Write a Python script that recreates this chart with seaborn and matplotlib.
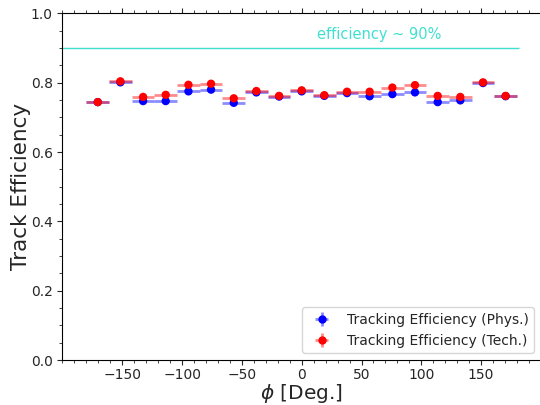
import numpy as np
import pandas as pd
import matplotlib
matplotlib.use("Agg")
import matplotlib.pyplot as plt
import seaborn as sns
from matplotlib.ticker import AutoMinorLocator, MultipleLocator
from matplotlib.legend_handler import HandlerTuple
from matplotlib.lines import Line2D

# ---- data ----
phi_centers = [-170.5, -151.6, -132.6, -113.7, -94.7, -75.8, -56.8, -37.9, -18.9, 0.0,
               18.9, 37.9, 56.8, 75.8, 94.7, 113.7, 132.6, 151.6, 170.5]
phi_halfwidth = 9.47
eff_phys = [0.744, 0.801, 0.747, 0.747, 0.775, 0.780, 0.742, 0.772, 0.760, 0.775,
            0.762, 0.770, 0.761, 0.767, 0.772, 0.744, 0.749, 0.799, 0.761]
err_phys = [0.005, 0.006, 0.005, 0.005, 0.006, 0.006, 0.006, 0.005, 0.005, 0.005,
            0.005, 0.005, 0.005, 0.005, 0.006, 0.005, 0.005, 0.006, 0.005]
eff_tech = [0.744, 0.804, 0.759, 0.765, 0.794, 0.797, 0.755, 0.776, 0.762, 0.778,
            0.764, 0.774, 0.774, 0.786, 0.793, 0.762, 0.759, 0.801, 0.762]
err_tech = [0.005, 0.007, 0.007, 0.007, 0.012, 0.011, 0.007, 0.005, 0.005, 0.005,
            0.005, 0.006, 0.007, 0.007, 0.012, 0.006, 0.006, 0.007, 0.005]
x_ticks = [-150, -100, -50, 0, 50, 100, 150]
ref_level = 0.9
ref_text = "efficiency ~ 90%"
label_phys = "Tracking Efficiency (Phys.)"
label_tech = "Tracking Efficiency (Tech.)"

df = pd.DataFrame({
    "phi": phi_centers * 2,
    "eff": eff_phys + eff_tech,
    "err": err_phys + err_tech,
    "kind": [label_phys] * len(phi_centers) + [label_tech] * len(phi_centers),
})

sns.set_style("ticks")
plt.rcParams["font.family"] = ["DejaVu Sans"]

fig = plt.figure(figsize=(5.4, 4.05), dpi=100)
ax = fig.add_axes([0.1157, 0.111, 0.886, 0.856])

colors = {label_phys: "blue", label_tech: "red"}
handles = []
for kind in [label_phys, label_tech]:
    sub = df[df["kind"] == kind]
    eb = ax.errorbar(sub["phi"], sub["eff"], xerr=phi_halfwidth, yerr=sub["err"],
                     fmt="none", ecolor=colors[kind], elinewidth=2, alpha=0.45,
                     zorder=2)
    handles.append(eb)

sns.scatterplot(data=df, x="phi", y="eff", hue="kind", palette=colors,
                s=36, edgecolor="none", legend=False, ax=ax, zorder=3)

leg_handles = []
for eb, kind in zip(handles, [label_phys, label_tech]):
    m = Line2D([], [], marker="o", color=colors[kind], linestyle="none", markersize=5)
    leg_handles.append((eb, m))
ax.legend(leg_handles, [label_phys, label_tech], loc="lower right", fontsize=10,
          handler_map={tuple: HandlerTuple(ndivide=1, pad=0)}, frameon=True)

ax.hlines(ref_level, -200, 182, color="turquoise", lw=1, zorder=1)
ax.text(13, 0.94, ref_text, color="turquoise", fontsize=10.5, va="center", ha="left")

ax.set_xlim(-200, 200)
ax.set_ylim(0, 1.0)
ax.set_xticks(x_ticks)
ax.xaxis.set_minor_locator(MultipleLocator(10))
ax.yaxis.set_minor_locator(AutoMinorLocator(4))
ax.tick_params(which="both", direction="out", top=True, right=False, labelsize=10)
ax.tick_params(axis="x", which="major", pad=2.5)
ax.set_xlabel(r"$\phi$ [Deg.]", fontsize=14.5, labelpad=0)
ax.set_ylabel("Track Efficiency", fontsize=15.5, labelpad=0)
for s in ax.spines.values():
    s.set_color("black")
ax.spines["right"].set_visible(False)

fig.savefig("out.png", dpi=100)
